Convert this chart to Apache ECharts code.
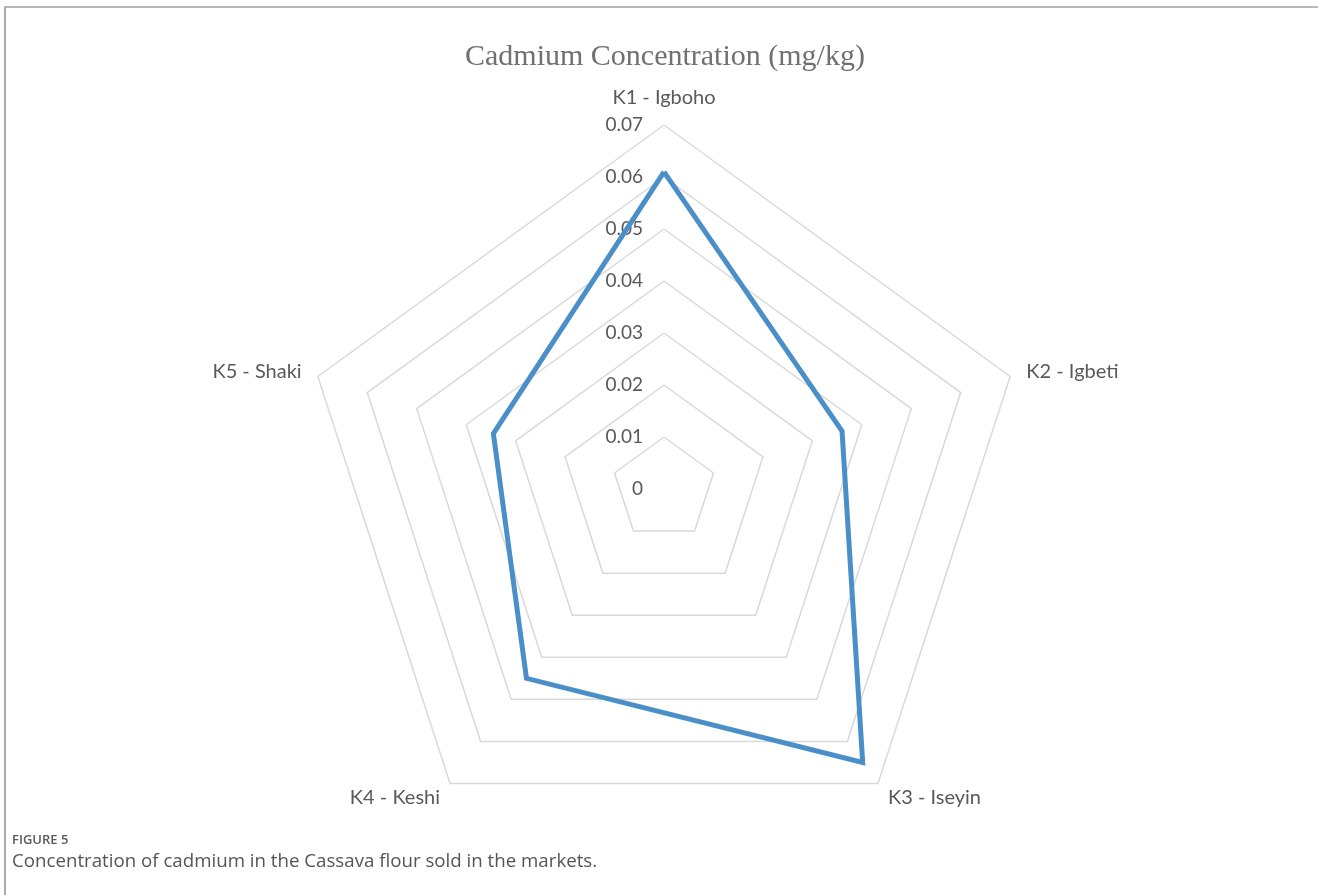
<!DOCTYPE html>
<html>
<head>
<meta charset="utf-8">
<script src="https://cdn.jsdelivr.net/npm/echarts@6/dist/echarts.min.js"></script>
<style>
  html, body { margin: 0; padding: 0; background: #fff; }
  #frame {
    position: absolute; left: 4px; top: 6px; right: -10px; bottom: -10px;
    border-top: 2px solid #b8b8b8; border-left: 2px solid #ababab;
  }
  #chart { position: absolute; left: 0; top: 0; width: 1318px; height: 895px; }
</style>
</head>
<body>
<div id="frame"></div>
<div id="chart"></div>
<script>
  // Datos
  const mercados = ["K1 - Igboho", "K2 - Igbeti", "K3 - Iseyin", "K4 - Keshi", "K5 - Shaki"];
  const cadmio = [0.061, 0.036, 0.065, 0.045, 0.0345];
  const maxEje = 0.07;

  // ECharts coloca los indicadores en sentido antihorario; invertimos después del primero
  const orden = [0, 4, 3, 2, 1];

  const contenedor = document.getElementById("chart");
  const myChart = echarts.init(contenedor);

  const indicadores = orden.map((i, k) => ({
    name: mercados[i],
    min: 0,
    max: maxEje,
    axisLabel: { show: k === 0 },
  }));

  var option = {
    animation: false,
    title: [
      {
        text: "Cadmium Concentration (mg/kg)",
        left: 460,
        top: 37,
        textStyle: {
          fontFamily: "Liberation Serif",
          fontWeight: "normal",
          fontSize: 30,
          color: "#707070",
        },
      },
      {
        text: "FIGURE 5",
        left: 7,
        top: 829,
        textStyle: { fontFamily: "Open Sans", fontWeight: 600, fontSize: 13, color: "#5a5a5a" },
      },
      {
        text: "Concentration of cadmium in the Cassava flour sold in the markets.",
        left: 7,
        top: 847,
        textStyle: { fontFamily: "Open Sans", fontWeight: "normal", fontSize: 18.7, color: "#555555" },
      },
    ],
    radar: {
      center: [664, 489],
      radius: 364,
      shape: "polygon",
      splitNumber: 7,
      indicator: indicadores,
      axisName: {
        color: "#595959",
        fontFamily: "Lato",
        fontSize: 20,
      },
      nameGap: 17,
      axisLine: { show: false },
      axisTick: { show: false },
      splitArea: { show: false },
      splitLine: { lineStyle: { color: "#d9d9d9", width: 1.5 } },
      axisLabel: {
        show: false,
        margin: 21,
        color: "#595959",
        fontFamily: "Lato",
        fontSize: 19,
        formatter: (v) => String(+(+v).toFixed(2)),
      },
    },
    series: [
      {
        type: "radar",
        symbol: "none",
        lineStyle: { color: "#4a8fc8", width: 5, join: "miter" },
        data: [{ value: orden.map((i) => cadmio[i]) }],
      },
    ],
  };

  myChart.setOption(option);
</script>
</body>
</html>
